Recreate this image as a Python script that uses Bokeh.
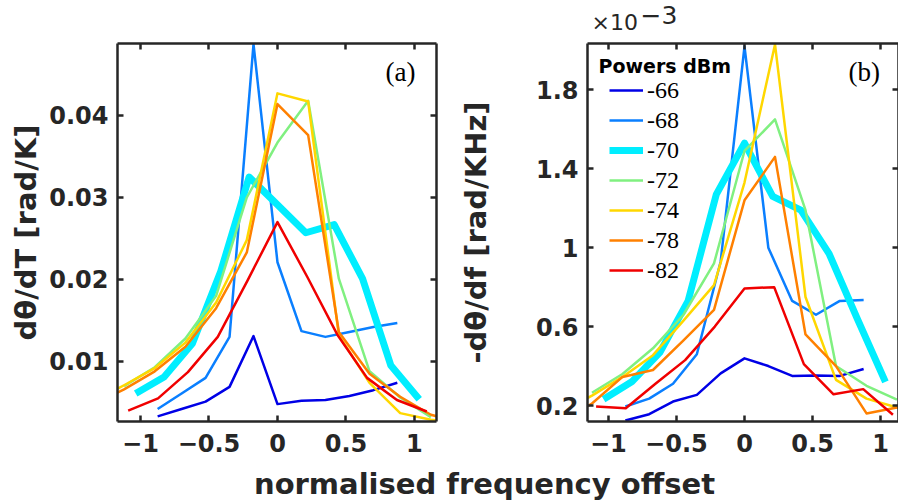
from bokeh.plotting import figure
from bokeh.models import (Range1d, LinearAxis, Label, Legend, LegendItem,
                          FixedTicker, CustomJSTickFormatter)
from bokeh.layouts import column, row
from bokeh.embed import file_html
from bokeh.resources import INLINE

# ---------------- data ----------------
powers = ["-66", "-68", "-70", "-72", "-74", "-78", "-82"]
colors = ["#0000E6", "#0A7FFF", "#00EEFF", "#80F080", "#FFD700", "#FF8000", "#F00000"]
widths = [2.5, 2.5, 7, 2.5, 2.5, 2.5, 2.5]

# normalised frequency offsets of each power's sweep
x_66 = [-0.875, -0.7, -0.525, -0.35, -0.175, 0, 0.175, 0.35, 0.525, 0.7, 0.875]
x_68 = [-0.875, -0.7, -0.525, -0.35, -0.175, 0, 0.175, 0.35, 0.525, 0.7, 0.875]
x_70 = [-1.035, -0.828, -0.621, -0.414, -0.207, 0, 0.207, 0.414, 0.621, 0.828, 1.035]
x_72 = [-1.12, -0.896, -0.672, -0.448, -0.224, 0, 0.224, 0.448, 0.672, 0.896, 1.12]
x_74 = [-1.344, -1.12, -0.896, -0.672, -0.448, -0.224, 0, 0.224, 0.448, 0.672, 0.896, 1.12, 1.344]
x_78 = [-1.344, -1.12, -0.896, -0.672, -0.448, -0.224, 0, 0.224, 0.448, 0.672, 0.896, 1.12, 1.344]
x_82 = [-1.09, -0.872, -0.654, -0.436, -0.218, 0, 0.218, 0.436, 0.654, 0.872, 1.09]

# panel (a): d(theta)/dT  [rad/K]
a_66 = [0.0033, 0.0042, 0.0051, 0.0069, 0.0131, 0.0048, 0.0052, 0.0053, 0.0058, 0.0065, 0.0074]
a_68 = [0.0042, 0.0061, 0.0080, 0.0130, 0.0487, 0.0221, 0.0137, 0.0130, 0.0136, 0.0142, 0.0147]
a_70 = [0.0061, 0.0081, 0.0122, 0.0210, 0.0325, 0.0291, 0.0257, 0.0267, 0.0201, 0.0095, 0.0054]
a_72 = [0.0070, 0.0093, 0.0128, 0.0180, 0.0300, 0.0367, 0.0418, 0.0201, 0.0088, 0.0056, 0.0032]
a_74 = [0.0051, 0.0071, 0.0092, 0.0123, 0.0172, 0.0248, 0.0427, 0.0417, 0.0132, 0.0074, 0.0037, 0.0029, 0.0024]
a_78 = [0.0047, 0.0066, 0.0088, 0.0118, 0.0165, 0.0233, 0.0414, 0.0376, 0.0136, 0.0085, 0.0057, 0.0035, 0.0025]
a_82 = [0.0040, 0.0055, 0.0087, 0.0130, 0.0199, 0.0270, 0.0203, 0.0133, 0.0080, 0.0053, 0.0039]

# panel (b): -d(theta)/df  [rad/KHz], in units of 1e-3
b_66 = [0.124, 0.156, 0.22, 0.254, 0.363, 0.439, 0.40, 0.35, 0.352, 0.35, 0.385]
b_68 = [0.195, 0.235, 0.31, 0.46, 0.93, 2.02, 1.0, 0.73, 0.66, 0.73, 0.735]
b_70 = [0.232, 0.32, 0.47, 0.73, 1.27, 1.53, 1.26, 1.19, 0.97, 0.64, 0.32]
b_72 = [0.265, 0.36, 0.49, 0.66, 0.92, 1.49, 1.65, 1.19, 0.40, 0.30, 0.23]
b_74 = [0.17, 0.25, 0.345, 0.455, 0.63, 0.81, 1.33, 2.03, 0.75, 0.33, 0.235, 0.19, 0.16]
b_78 = [0.12, 0.21, 0.345, 0.38, 0.53, 0.685, 1.24, 1.46, 0.56, 0.40, 0.16, 0.19, 0.21]
b_82 = [0.195, 0.186, 0.31, 0.43, 0.60, 0.793, 0.80, 0.41, 0.257, 0.283, 0.153]

x_ticks = [-1, -0.5, 0, 0.5, 1]
a_ticks = [0.01, 0.02, 0.03, 0.04]
b_ticks = [0.2, 0.6, 1.0, 1.4, 1.8]

xs = [x_66, x_68, x_70, x_72, x_74, x_78, x_82]
ys_a = [a_66, a_68, a_70, a_72, a_74, a_78, a_82]
ys_b = [b_66, b_68, b_70, b_72, b_74, b_78, b_82]

INK = "#262626"
SANS = "DejaVu Sans"
SERIF = "Liberation Serif"
FMT = "return (tick < 0 ? '\u2212' + String(-tick) : String(tick));"


def make_panel(width, height, x_rng, y_rng, yticks, ylabel, b_left, b_right, b_top,
               lab_standoff):
    p = figure(width=width, height=height, x_range=Range1d(*x_rng), y_range=Range1d(*y_rng),
               output_backend="svg", toolbar_location=None, title=None,
               min_border_left=b_left, min_border_right=b_right,
               min_border_top=b_top, min_border_bottom=41)
    p.grid.visible = False
    p.outline_line_color = None
    top = LinearAxis()
    right = LinearAxis()
    p.add_layout(top, "above")
    p.add_layout(right, "right")
    for ax in [p.below[0], top]:
        ax.ticker = FixedTicker(ticks=x_ticks)
    for ax in [p.left[0], right]:
        ax.ticker = FixedTicker(ticks=yticks)
    for ax in [p.below[0], p.left[0], top, right]:
        ax.axis_line_color = INK
        ax.axis_line_width = 2.5
        ax.major_tick_in = 6
        ax.major_tick_out = 0
        ax.major_tick_line_color = INK
        ax.major_tick_line_width = 2.5
        ax.minor_tick_line_color = None
        ax.major_label_text_font = SANS
        ax.major_label_text_font_style = "bold"
        ax.major_label_text_font_size = "24px"
        ax.major_label_text_color = INK
        ax.formatter = CustomJSTickFormatter(code=FMT)
    for ax in [top, right]:
        ax.formatter = CustomJSTickFormatter(code="return '';")
        ax.major_label_text_font_size = "0px"
        ax.major_label_standoff = 0
    p.below[0].major_label_standoff = 12
    p.left[0].major_label_standoff = 9
    p.left[0].axis_label = ylabel
    p.left[0].axis_label_text_font = SANS
    p.left[0].axis_label_text_font_style = "bold"
    p.left[0].axis_label_text_font_size = "29px"
    p.left[0].axis_label_text_color = INK
    p.left[0].axis_label_standoff = lab_standoff
    return p


p1 = make_panel(455, 462, (-1.168, 1.161), (0.00268, 0.04878), a_ticks,
                "d\u03b8/dT [rad/K]", 117, 19, 43, 3)
p2 = make_panel(443, 426, (-1.153, 1.131), (0.119, 2.0347), b_ticks,
                "-d\u03b8/df [rad/KHz]", 130, 0, 7, 40)

items = []
for xv, ya, yb, lab, c, w in zip(xs, ys_a, ys_b, powers, colors, widths):
    p1.line(xv, ya, line_color=c, line_width=w, line_join="round")
    r = p2.line(xv, yb, line_color=c, line_width=w, line_join="round")
    items.append(LegendItem(label=lab, renderers=[r]))

legend = Legend(items=items, location=(22, 136), margin=0, padding=0, spacing=0,
                glyph_width=34, glyph_height=30, label_height=30, label_standoff=4,
                label_text_font=SERIF, label_text_font_size="24px", label_text_color="black",
                border_line_color=None, background_fill_alpha=0)
p2.add_layout(legend)

p2.add_layout(Label(x=11, y=356, x_units="screen", y_units="screen", text="Powers dBm",
                    text_font=SANS, text_font_style="bold", text_font_size="19px",
                    text_color="black", text_baseline="middle"))

p1.add_layout(Label(x=268, y=350, x_units="screen", y_units="screen", text="(a)",
                    text_font=SERIF, text_font_size="27px", text_color="black",
                    text_baseline="middle"))
p2.add_layout(Label(x=261, y=350, x_units="screen", y_units="screen", text="(b)",
                    text_font=SERIF, text_font_size="27px", text_color="black",
                    text_baseline="middle"))

# axis multiplier strip above panel (b); its frame lines up with panel (b)'s frame
p_top = figure(width=443, height=36, x_range=Range1d(0, 1), y_range=Range1d(0, 1),
               output_backend="svg", toolbar_location=None, min_border=0, title=None,
               x_axis_location=None, y_axis_location=None)
p_top.grid.visible = False
p_top.outline_line_color = None
p_top.add_layout(Label(x=4, y=14, x_units="screen", y_units="screen", text="\u00d710",
                       text_font=SANS, text_font_size="22px", text_color=INK,
                       text_baseline="middle"))
p_top.add_layout(Label(x=53, y=22, x_units="screen", y_units="screen", text="\u22123",
                       text_font=SANS, text_font_size="25px", text_color=INK,
                       text_baseline="middle"))

# shared x-axis title
p3 = figure(width=898, height=42, x_range=Range1d(0, 1), y_range=Range1d(0, 1),
            output_backend="svg", toolbar_location=None, min_border=0, title=None,
            x_axis_location=None, y_axis_location=None)
p3.grid.visible = False
p3.outline_line_color = None
p3.add_layout(Label(x=484, y=21, x_units="screen", y_units="screen",
                    text="normalised frequency offset", text_align="center",
                    text_baseline="middle", text_font=SANS, text_font_style="bold",
                    text_font_size="29px", text_color=INK))

layout = column(row(p1, column(p_top, p2)), p3)
open("out.html", "w").write(file_html(layout, INLINE))
